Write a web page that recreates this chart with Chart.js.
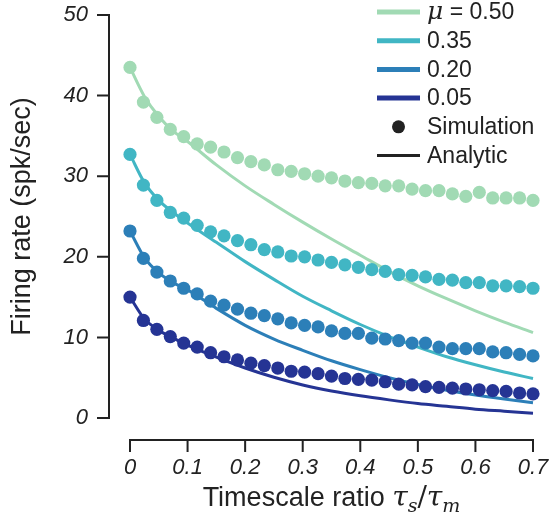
<!DOCTYPE html>
<html>
<head>
<meta charset="utf-8">
<script src="https://cdn.jsdelivr.net/npm/chart.js@4"></script>
<style>
  body { margin: 0; background: #fff; }
  #wrap { width: 556px; height: 516px; position: relative; }
</style>
</head>
<body>
<div id="wrap"><canvas id="rateChart"></canvas></div>
<script>
// tau_s / tau_m values of the simulation runs
const simX = [0, 0.0233, 0.0467, 0.07, 0.0933, 0.1167, 0.14, 0.1633, 0.1867, 0.21, 0.2333,
    0.2567, 0.28, 0.3033, 0.3267, 0.35, 0.3733, 0.3967, 0.42, 0.4433, 0.4667, 0.49, 0.5133,
    0.5367, 0.56, 0.5833, 0.6067, 0.63, 0.6533, 0.6767, 0.7];

// simulated firing rates (spk/sec), one list per mu
const sim050 = [43.5, 39.2, 37.3, 35.8, 34.9, 34.0, 33.6, 33.0, 32.3, 31.8, 31.4, 30.8, 30.6, 30.3,
    30.0, 29.8, 29.4, 29.2, 29.1, 28.8, 28.8, 28.4, 28.2, 28.2, 27.8, 27.5, 28.0, 27.3, 27.3, 27.3, 27.0];
const sim035 = [32.7, 28.9, 27.0, 25.5, 24.8, 23.9, 23.1, 22.6, 22.0, 21.5, 20.9, 20.6, 20.1, 20.0,
    19.6, 19.3, 19.0, 18.7, 18.4, 18.2, 17.8, 17.7, 17.5, 17.2, 17.1, 16.8, 16.8, 16.4, 16.4, 16.3, 16.1];
const sim020 = [23.2, 19.8, 18.1, 17.0, 16.1, 15.4, 14.5, 14.0, 13.5, 13.0, 12.7, 12.3, 11.8, 11.5,
    11.3, 10.8, 10.5, 10.5, 9.9, 9.8, 9.6, 9.3, 9.3, 8.8, 8.6, 8.6, 8.6, 8.2, 8.1, 7.9, 7.7];
const sim005 = [15.0, 12.1, 11.0, 10.1, 9.3, 8.8, 8.1, 7.6, 7.2, 6.8, 6.5, 6.2, 5.8, 5.7,
    5.5, 5.2, 4.9, 4.8, 4.7, 4.5, 4.2, 4.1, 3.9, 3.8, 3.7, 3.6, 3.5, 3.4, 3.3, 3.1, 3.0];

const anaX = [0, 0.025, 0.05, 0.075, 0.1, 0.15, 0.2, 0.25, 0.3, 0.35, 0.4, 0.45, 0.5, 0.55, 0.6, 0.65, 0.7];
const ana050 = [43.5, 39.9, 37.4, 35.6, 34.3, 31.4, 28.8, 26.5, 24.3, 22.2, 20.2, 18.2, 16.4, 14.8, 13.3, 11.9, 10.6];
const ana035 = [32.7, 29.2, 27.0, 25.5, 24.2, 21.8, 19.4, 17.2, 15.1, 13.3, 11.6, 10.1, 8.8, 7.6, 6.6, 5.7, 4.9];
const ana020 = [23.2, 19.9, 18.0, 16.8, 15.9, 13.6, 11.5, 9.8, 8.4, 7.1, 6.0, 5.0, 4.15, 3.45, 2.85, 2.35, 1.9];
const ana005 = [15.0, 12.3, 10.9, 9.9, 9.05, 7.55, 6.2, 5.05, 4.1, 3.35, 2.75, 2.25, 1.8, 1.45, 1.1, 0.85, 0.6];

const muLabels = ['0.50', '0.35', '0.20', '0.05'];
const muColors = ['#a1dab4', '#41b6c4', '#2c7fb8', '#253494'];
const simSeries = [sim050, sim035, sim020, sim005];
const anaSeries = [ana050, ana035, ana020, ana005];

const xTicks = [0, 0.1, 0.2, 0.3, 0.4, 0.5, 0.6, 0.7];
const yTicks = [0, 10, 20, 30, 40, 50];

const SANS = "'Liberation Sans', Arial, Helvetica, sans-serif";
const SERIF = "'DejaVu Serif', 'Liberation Serif', serif";
const INK = '#222';

const toPoints = (xs, ys) => xs.map((x, i) => ({ x, y: ys[i] }));

// points first so they are painted above the curves
const datasets = [];
simSeries.forEach((ys, i) => {
    datasets.push({
        label: muLabels[i] + ' sim',
        data: toPoints(simX, ys),
        showLine: false,
        pointRadius: 6.6,
        pointHoverRadius: 6.6,
        pointBorderWidth: 0,
        pointBackgroundColor: muColors[i],
        borderColor: muColors[i],
        clip: false
    });
});
anaSeries.forEach((ys, i) => {
    datasets.push({
        label: muLabels[i] + ' analytic',
        data: toPoints(anaX, ys),
        borderColor: muColors[i],
        borderWidth: 3,
        pointRadius: 0,
        cubicInterpolationMode: 'monotone',
        clip: false
    });
});

// chart.js adds tick padding to the layout; the figure wants a fixed plot box
const fixBox = (s, size) => {
    if (s.isHorizontal()) s.height = size; else s.width = size;
    s.paddingTop = 0;
    s.paddingBottom = 0;
    s.paddingLeft = 0;
    s.paddingRight = 0;
};

// offset spines with outward ticks, like the original figure
const spines = {
    id: 'spines',
    afterDraw(chart) {
        const { ctx, scales: { x, y } } = chart;
        const yLine = 109, xLine = 440, tick = 12;
        ctx.save();
        ctx.strokeStyle = INK;
        ctx.lineWidth = 2;
        ctx.lineCap = 'butt';
        ctx.beginPath();
        ctx.moveTo(yLine, y.getPixelForValue(yTicks[yTicks.length - 1]));
        ctx.lineTo(yLine, y.getPixelForValue(yTicks[0]));
        yTicks.forEach(v => {
            const py = y.getPixelForValue(v);
            ctx.moveTo(yLine - tick, py);
            ctx.lineTo(yLine + 1, py);
        });
        ctx.moveTo(x.getPixelForValue(xTicks[0]), xLine);
        ctx.lineTo(x.getPixelForValue(xTicks[xTicks.length - 1]), xLine);
        xTicks.forEach(v => {
            const px = x.getPixelForValue(v);
            ctx.moveTo(px, xLine - 1);
            ctx.lineTo(px, xLine + tick);
        });
        ctx.stroke();
        ctx.restore();
    }
};

// x title has math in it: "Timescale ratio τs/τm"
const xTitle = {
    id: 'xTitle',
    afterDraw(chart) {
        const { ctx, chartArea } = chart;
        const parts = [
            { t: 'Timescale ratio ', f: `27px ${SANS}`, dy: 0 },
            { t: 'τ', f: `italic 28px ${SERIF}`, dy: 0 },
            { t: 's', f: `italic 19px ${SERIF}`, dy: 6 },
            { t: '/', f: `28px ${SERIF}`, dy: 0 },
            { t: 'τ', f: `italic 28px ${SERIF}`, dy: 0 },
            { t: 'm', f: `italic 19px ${SERIF}`, dy: 6 }
        ];
        ctx.save();
        ctx.fillStyle = INK;
        ctx.textBaseline = 'alphabetic';
        let total = 0;
        parts.forEach(p => { ctx.font = p.f; p.w = ctx.measureText(p.t).width; total += p.w; });
        let cx = (chartArea.left + chartArea.right) / 2 - total / 2;
        parts.forEach(p => {
            ctx.font = p.f;
            ctx.fillText(p.t, cx, 506 + p.dy);
            cx += p.w;
        });
        ctx.restore();
    }
};

// legend drawn by hand so it can sit in the upper right corner
const cornerLegend = {
    id: 'cornerLegend',
    afterDraw(chart) {
        const { ctx } = chart;
        const x0 = 377, x1 = 420, tx = 427, top = 12, step = 28.7;
        ctx.save();
        ctx.textBaseline = 'middle';
        ctx.fillStyle = INK;
        muLabels.forEach((lbl, i) => {
            const cy = top + i * step;
            ctx.strokeStyle = muColors[i];
            ctx.lineWidth = 5;
            ctx.beginPath();
            ctx.moveTo(x0, cy);
            ctx.lineTo(x1, cy);
            ctx.stroke();
            ctx.fillStyle = INK;
            if (i === 0) {
                ctx.font = `italic 25px ${SERIF}`;
                ctx.fillText('μ', tx, cy);
                const w = ctx.measureText('μ').width;
                ctx.font = `23px ${SANS}`;
                ctx.fillText(' = ' + lbl, tx + w, cy + 1);
            } else {
                ctx.font = `23px ${SANS}`;
                ctx.fillText(lbl, tx, cy + 1);
            }
        });
        let cy = top + 4 * step;
        ctx.beginPath();
        ctx.arc((x0 + x1) / 2, cy, 6.5, 0, Math.PI * 2);
        ctx.fill();
        ctx.font = `23px ${SANS}`;
        ctx.fillText('Simulation', tx, cy + 1);
        cy = top + 5 * step;
        ctx.strokeStyle = INK;
        ctx.lineWidth = 3;
        ctx.beginPath();
        ctx.moveTo(x0, cy);
        ctx.lineTo(x1, cy);
        ctx.stroke();
        ctx.fillText('Analytic', tx, cy + 1);
        ctx.restore();
    }
};

new Chart(document.getElementById('rateChart').getContext('2d'), {
    type: 'line',
    data: { datasets },
    options: {
        responsive: true,
        maintainAspectRatio: false,
        animation: false,
        events: [],
        layout: { padding: { top: 15, right: 23, left: 0, bottom: 0 } },
        plugins: {
            legend: { display: false },
            tooltip: { enabled: false }
        },
        scales: {
            x: {
                type: 'linear',
                min: 0,
                max: 0.7,
                afterFit: s => fixBox(s, 98),
                afterBuildTicks: s => { s.ticks = xTicks.map(v => ({ value: v })); },
                border: { display: false },
                grid: { display: false, drawTicks: false },
                ticks: {
                    padding: 37,
                    color: INK,
                    maxRotation: 0,
                    font: { family: SANS, size: 22, style: 'italic' }
                }
            },
            y: {
                min: 0,
                max: 50,
                afterFit: s => fixBox(s, 130),
                afterBuildTicks: s => { s.ticks = yTicks.map(v => ({ value: v })); },
                border: { display: false },
                grid: { display: false, drawTicks: false },
                ticks: {
                    padding: 42,
                    color: INK,
                    font: { family: SANS, size: 22, style: 'italic' }
                },
                title: {
                    display: true,
                    text: 'Firing rate (spk/sec)',
                    color: INK,
                    padding: { top: 6, bottom: 0 },
                    font: { family: SANS, size: 27 }
                }
            }
        }
    },
    plugins: [spines, xTitle, cornerLegend]
});
</script>
</body>
</html>
